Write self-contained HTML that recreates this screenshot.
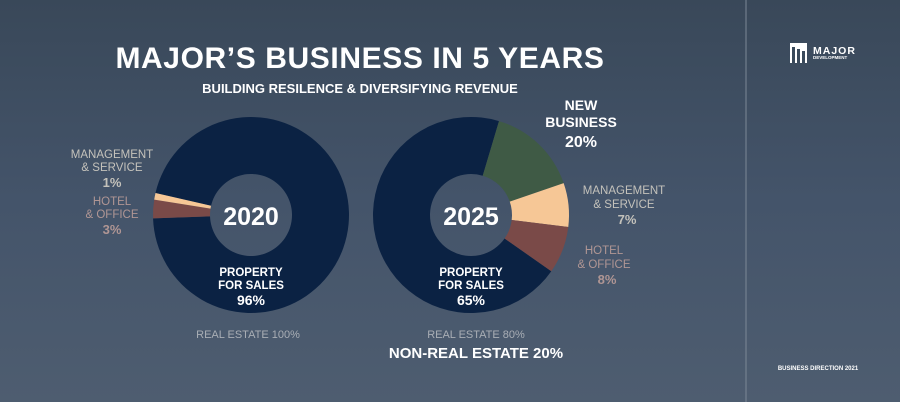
<!DOCTYPE html>
<html><head><meta charset="utf-8"><style>
body{margin:0;width:900px;height:402px;overflow:hidden;background:linear-gradient(180deg,#394859 0%,#44546a 50%,#4e5d70 100%);font-family:"Liberation Sans",sans-serif;}
svg{position:absolute;left:0;top:0}
</style></head><body>
<svg id="s" width="900" height="402" xmlns="http://www.w3.org/2000/svg">
<line x1="746" y1="0" x2="746" y2="402" stroke="#7c8896" stroke-width="1"/>
<g font-family="Liberation Sans, sans-serif" font-weight="bold">
<text x="360" y="68" fill="#fff" font-size="30" text-anchor="middle" letter-spacing="0.6">MAJOR’S BUSINESS IN 5 YEARS</text>
<text x="360" y="93" fill="#fff" font-size="13" text-anchor="middle">BUILDING RESILENCE &amp; DIVERSIFYING REVENUE</text>
</g>
<g id="d"></g>
<g font-family="Liberation Sans, sans-serif" font-weight="bold" text-anchor="middle">
<text x="251" y="225" fill="#fff" font-size="25">2020</text>
<text x="471" y="225" fill="#fff" font-size="25">2025</text>
<g fill="#fff" font-size="11.5"><text x="251" y="276">PROPERTY</text><text x="251" y="289">FOR SALES</text><text x="251" y="305" font-size="14">96%</text>
<text x="471" y="276">PROPERTY</text><text x="471" y="289">FOR SALES</text><text x="471" y="305" font-size="14">65%</text></g>
<g fill="#c4c2bb" font-size="11.5" font-weight="normal"><text x="112" y="158">MANAGEMENT</text><text x="112" y="171">&amp; SERVICE</text><text x="112" y="187" font-weight="bold" font-size="13">1%</text></g>
<g fill="#b09694" font-size="11.5" font-weight="normal"><text x="112" y="205">HOTEL</text><text x="112" y="218">&amp; OFFICE</text><text x="112" y="245" font-weight="bold" font-size="13"></text><text x="112" y="234" font-weight="bold" font-size="13">3%</text></g>
<g fill="#fff" font-size="14"><text x="581" y="110">NEW</text><text x="581" y="127">BUSINESS</text><text x="581" y="147" font-size="16">20%</text></g>
<g fill="#c4c2bb" font-size="11.5" font-weight="normal"><text x="624" y="194">MANAGEMENT</text><text x="624" y="208">&amp; SERVICE</text><text x="627" y="224" font-weight="bold" font-size="13">7%</text></g>
<g fill="#b09694" font-size="11.5" font-weight="normal"><text x="604" y="254">HOTEL</text><text x="604" y="268">&amp; OFFICE</text><text x="607" y="284" font-weight="bold" font-size="13">8%</text></g>
<text x="248" y="338" fill="#a9aeb5" font-size="11" font-weight="normal">REAL ESTATE 100%</text>
<text x="476" y="338" fill="#a9aeb5" font-size="11" font-weight="normal">REAL ESTATE 80%</text>
<text x="476" y="358" fill="#fff" font-size="15">NON-REAL ESTATE 20%</text>
</g>
<g>
<rect x="790" y="43" width="17" height="20" fill="#fff"/>
<rect x="792" y="47" width="3" height="16" fill="#3a4a5b"/><rect x="797" y="49" width="3" height="14" fill="#3a4a5b"/><rect x="802" y="51" width="3" height="12" fill="#3a4a5b"/>
<text x="813" y="54" fill="#fff" font-size="10.5" font-weight="bold" font-family="Liberation Sans, sans-serif" letter-spacing="1">MAJOR</text>
<text x="813" y="59" fill="#fff" font-size="4.5" font-weight="bold" font-family="Liberation Sans, sans-serif">DEVELOPMENT</text>
<text x="818" y="370" fill="#fff" font-size="6" font-weight="bold" font-family="Liberation Sans, sans-serif" text-anchor="middle">BUSINESS DIRECTION 2021</text>
</g>
</svg>
<script>
function arc(cx,cy,R,r,a0,a1,c){var t=x=>(x-90)*Math.PI/180;var p=(rad,a)=>[cx+rad*Math.cos(t(a)),cy+rad*Math.sin(t(a))];var L=(a1-a0)>180?1:0;
var A=p(R,a0),B=p(R,a1),C=p(r,a1),D=p(r,a0);
return '<path fill="'+c+'" d="M'+A+' A'+R+','+R+' 0 '+L+' 1 '+B+' L'+C+' A'+r+','+r+' 0 '+L+' 0 '+D+'Z"/>';}
var h='';
h+=arc(251,215,98,41,283,628,'#0b2243');
h+=arc(251,215,98,41,268,279,'#7a4a48');
h+=arc(251,215,98,41,279,283,'#f6c796');
h+=arc(471,215,98,41,125,376.6,'#0b2243');
h+=arc(471,215,98,41,16.6,71,'#3f5a45');
h+=arc(471,215,98,41,71,97,'#f6c796');
h+=arc(471,215,98,41,97,125,'#7a4a48');
document.getElementById('d').innerHTML=h;
</script>
</body></html>
